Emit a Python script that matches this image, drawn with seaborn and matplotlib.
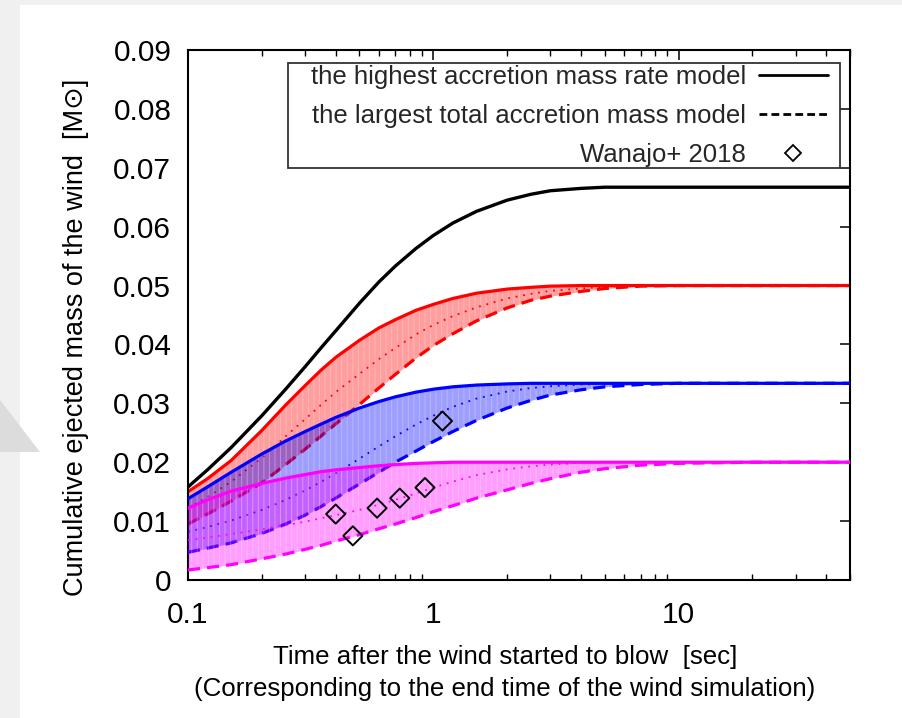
import matplotlib
matplotlib.use("Agg")
import matplotlib.pyplot as plt
import matplotlib.ticker as mticker
import seaborn as sns
import pandas as pd
from matplotlib.lines import Line2D
from matplotlib.patches import Rectangle, Polygon

# ---------------- data ----------------
t_sec = [0.1, 0.12, 0.15, 0.2, 0.25, 0.3, 0.35, 0.4, 0.5, 0.6, 0.7, 0.85, 1.0, 1.2, 1.5,
         2.0, 2.5, 3.0, 4.0, 5.0, 7.0, 10.0, 20.0, 50.0]

black_solid = [0.0158, 0.0187, 0.0225, 0.0279, 0.0324, 0.0362, 0.0395, 0.0423, 0.0470, 0.0506,
               0.0533, 0.0563, 0.0585, 0.0606, 0.0626, 0.0645, 0.0655, 0.0661, 0.0665, 0.0667,
               0.0667, 0.0667, 0.0667, 0.0667]

red_solid = [0.0150, 0.0172, 0.0203, 0.0254, 0.0297, 0.0330, 0.0357, 0.0378, 0.0407, 0.0428,
             0.0442, 0.0458, 0.0468, 0.0478, 0.0487, 0.0494, 0.0497, 0.0499, 0.0500, 0.0500,
             0.0500, 0.0500, 0.0500, 0.0500]
red_dotted = [0.0122, 0.0141, 0.0167, 0.0207, 0.0244, 0.0273, 0.0298, 0.0319, 0.0350, 0.0375,
              0.0394, 0.0417, 0.0433, 0.0448, 0.0463, 0.0478, 0.0486, 0.0491, 0.0495, 0.0498,
              0.0499, 0.0500, 0.0500, 0.0500]
red_dashed = [0.0095, 0.0112, 0.0134, 0.0165, 0.0196, 0.0222, 0.0245, 0.0265, 0.0298, 0.0326,
              0.0349, 0.0377, 0.0398, 0.0418, 0.0440, 0.0462, 0.0475, 0.0482, 0.0490, 0.0495,
              0.0499, 0.0500, 0.0500, 0.0500]

blue_solid = [0.0138, 0.0158, 0.0183, 0.0214, 0.0236, 0.0252, 0.0265, 0.0276, 0.0292, 0.0303,
              0.0311, 0.0319, 0.0324, 0.0328, 0.0331, 0.0333, 0.0334, 0.0334, 0.0334, 0.0334,
              0.0334, 0.0334, 0.0334, 0.0334]
blue_dotted = [0.0082, 0.0090, 0.0101, 0.0119, 0.0136, 0.0152, 0.0167, 0.0181, 0.0206, 0.0227,
               0.0244, 0.0264, 0.0279, 0.0294, 0.0308, 0.0320, 0.0326, 0.0329, 0.0332, 0.0333,
               0.0334, 0.0334, 0.0334, 0.0334]
blue_dashed = [0.0047, 0.0054, 0.0063, 0.0079, 0.0095, 0.0110, 0.0125, 0.0139, 0.0163, 0.0183,
               0.0200, 0.0219, 0.0235, 0.0252, 0.0271, 0.0292, 0.0305, 0.0314, 0.0323, 0.0328,
               0.0332, 0.0334, 0.0334, 0.0334]

magenta_solid = [0.0122, 0.0136, 0.0151, 0.0164, 0.0173, 0.0179, 0.0184, 0.0187, 0.0191, 0.0194,
                 0.0196, 0.0198, 0.0199, 0.0200, 0.0200, 0.0200, 0.0200, 0.0200, 0.0200, 0.0200,
                 0.0200, 0.0200, 0.0200, 0.0200]
magenta_dotted = [0.0068, 0.0072, 0.0078, 0.0086, 0.0093, 0.0099, 0.0105, 0.0110, 0.0119, 0.0128,
                  0.0136, 0.0147, 0.0157, 0.0167, 0.0178, 0.0188, 0.0193, 0.0196, 0.0199, 0.0200,
                  0.0200, 0.0200, 0.0200, 0.0200]
magenta_dashed = [0.0017, 0.0021, 0.0026, 0.0036, 0.0044, 0.0052, 0.0059, 0.0066, 0.0077, 0.0087,
                  0.0095, 0.0106, 0.0116, 0.0126, 0.0139, 0.0153, 0.0164, 0.0172, 0.0183, 0.0189,
                  0.0195, 0.0198, 0.0200, 0.0200]

wanajo_t = [0.40, 0.47, 0.59, 0.73, 0.925, 1.09]
wanajo_m = [0.0112, 0.0075, 0.0122, 0.0139, 0.0157, 0.0270]

x_ticks = [0.1, 1, 10]
x_tick_labels = ["0.1", "1", "10"]
y_ticks = [0, 0.01, 0.02, 0.03, 0.04, 0.05, 0.06, 0.07, 0.08, 0.09]
y_tick_labels = ["0", "0.01", "0.02", "0.03", "0.04", "0.05", "0.06", "0.07", "0.08", "0.09"]

legend_labels = ["the highest accretion mass rate model",
                 "the largest total accretion mass model",
                 "Wanajo+ 2018"]
x_label = "Time after the wind started to blow  [sec]\n(Corresponding to the end time of the wind simulation)"
y_label = "Cumulative ejected mass of the wind  [M\u2299]"

# ---------------- style ----------------
sns.set_theme(style="white")
plt.rcParams["font.family"] = ["Liberation Sans", "DejaVu Sans"]
plt.rcParams["hatch.linewidth"] = 0.7

W, H = 902, 718
fig = plt.figure(figsize=(W / 100, H / 100), dpi=100)
fig.patch.set_facecolor("#f0f0f0")
fig.add_artist(Rectangle((20 / W, 0), 1 - 20 / W, 1 - 5 / H, transform=fig.transFigure,
                         facecolor="white", edgecolor="none", zorder=-2))
fig.add_artist(Polygon([(0, 1 - 400 / H), (40 / W, 1 - 452 / H), (0, 1 - 452 / H)],
                       closed=True, transform=fig.transFigure,
                       facecolor="#dcdcdc", edgecolor="none", zorder=-1))

ax = fig.add_axes([188 / W, 1 - 580 / H, (850 - 188) / W, (580 - 50) / H])
ax.set_xscale("log")

df = pd.DataFrame({"t": t_sec,
                   "black_solid": black_solid,
                   "red_solid": red_solid, "red_dotted": red_dotted, "red_dashed": red_dashed,
                   "blue_solid": blue_solid, "blue_dotted": blue_dotted, "blue_dashed": blue_dashed,
                   "magenta_solid": magenta_solid, "magenta_dotted": magenta_dotted,
                   "magenta_dashed": magenta_dashed})

colors = {"red": "#ff0000", "blue": "#0000ff", "magenta": "#ff00ff"}
z = 2
for name, col in colors.items():
    ax.fill_between(df["t"], df[f"{name}_dashed"], df[f"{name}_solid"],
                    color=col, alpha=0.38, linewidth=0, zorder=z)
    ax.fill_between(df["t"], df[f"{name}_dashed"], df[f"{name}_solid"],
                    facecolor="none", edgecolor=(1, 1, 1, 0.25), hatch="|||",
                    linewidth=0, zorder=z + 0.05)
    sns.lineplot(data=df, x="t", y=f"{name}_solid", ax=ax, color=col, lw=2.3,
                 estimator=None, legend=False, zorder=z + 0.1)
    sns.lineplot(data=df, x="t", y=f"{name}_dotted", ax=ax, color=col, lw=1.3,
                 estimator=None, legend=False, zorder=z + 0.1, dashes=False,
                 linestyle=(0, (1, 3.2)))
    sns.lineplot(data=df, x="t", y=f"{name}_dashed", ax=ax, color=col, lw=2.3,
                 estimator=None, legend=False, zorder=z + 0.1, dashes=False,
                 linestyle=(0, (3.8, 2.2)))
    z += 1

sns.lineplot(data=df, x="t", y="black_solid", ax=ax, color="black", lw=2.4,
             estimator=None, legend=False, zorder=10)

wdf = pd.DataFrame({"t": wanajo_t, "m": wanajo_m})
sns.scatterplot(data=wdf, x="t", y="m", ax=ax, marker="D", s=95, facecolor="none",
                edgecolor="black", linewidth=1.4, zorder=11, legend=False)

ax.set_xlim(0.1, 50)
ax.set_ylim(0, 0.09)
ax.set_xticks(x_ticks)
ax.set_xticklabels(x_tick_labels)
ax.set_yticks(y_ticks)
ax.set_yticklabels(y_tick_labels)
ax.xaxis.set_minor_locator(mticker.LogLocator(base=10, subs=range(2, 10), numticks=20))
ax.xaxis.set_minor_formatter(mticker.NullFormatter())

ax.tick_params(axis="both", which="major", direction="in", top=True, right=True,
               length=7, width=1.1, colors="black", labelsize=21.5, labelcolor="black")
ax.tick_params(axis="x", which="major", pad=15)
ax.tick_params(axis="y", which="major", pad=12)
ax.tick_params(axis="x", which="minor", direction="in", top=True, bottom=True,
               length=4, width=1.0, colors="black")
for sp in ax.spines.values():
    sp.set_color("black")
    sp.set_linewidth(1.5)

ax.set_xlabel(x_label, fontsize=18.6, color="black", linespacing=1.45)
ax.xaxis.set_label_coords(0.479, -0.122)
ax.set_ylabel(y_label, fontsize=19.5, color="black")
ax.yaxis.set_label_coords(-0.150, 0.458)

# legend frame (gnuplot style box) and entries: text first, sample on the right
ax.add_patch(Rectangle((100 / 662, (580 - 168) / 530), 552 / 662, 105 / 530,
                       transform=ax.transAxes, facecolor="white", edgecolor="#333333",
                       linewidth=1.3, zorder=19))
handles = [Line2D([], [], color="black", lw=2.0),
           Line2D([], [], color="black", lw=2.0, linestyle=(0, (2.8, 1.5))),
           Line2D([], [], color="black", lw=0, marker="D", markersize=8,
                  markerfacecolor="none", markeredgecolor="black", markeredgewidth=1.3)]
leg = ax.legend(handles, legend_labels, loc="upper right",
                bbox_to_anchor=((828 - 188) / 662, (580 - 65) / 530),
                markerfirst=False, fontsize=18.5, frameon=False,
                handlelength=2.7, handletextpad=0.5, labelspacing=0.58,
                borderpad=0.0, borderaxespad=0)
leg.set_zorder(20)

fig.savefig("out.png", dpi=100, facecolor=fig.get_facecolor())
